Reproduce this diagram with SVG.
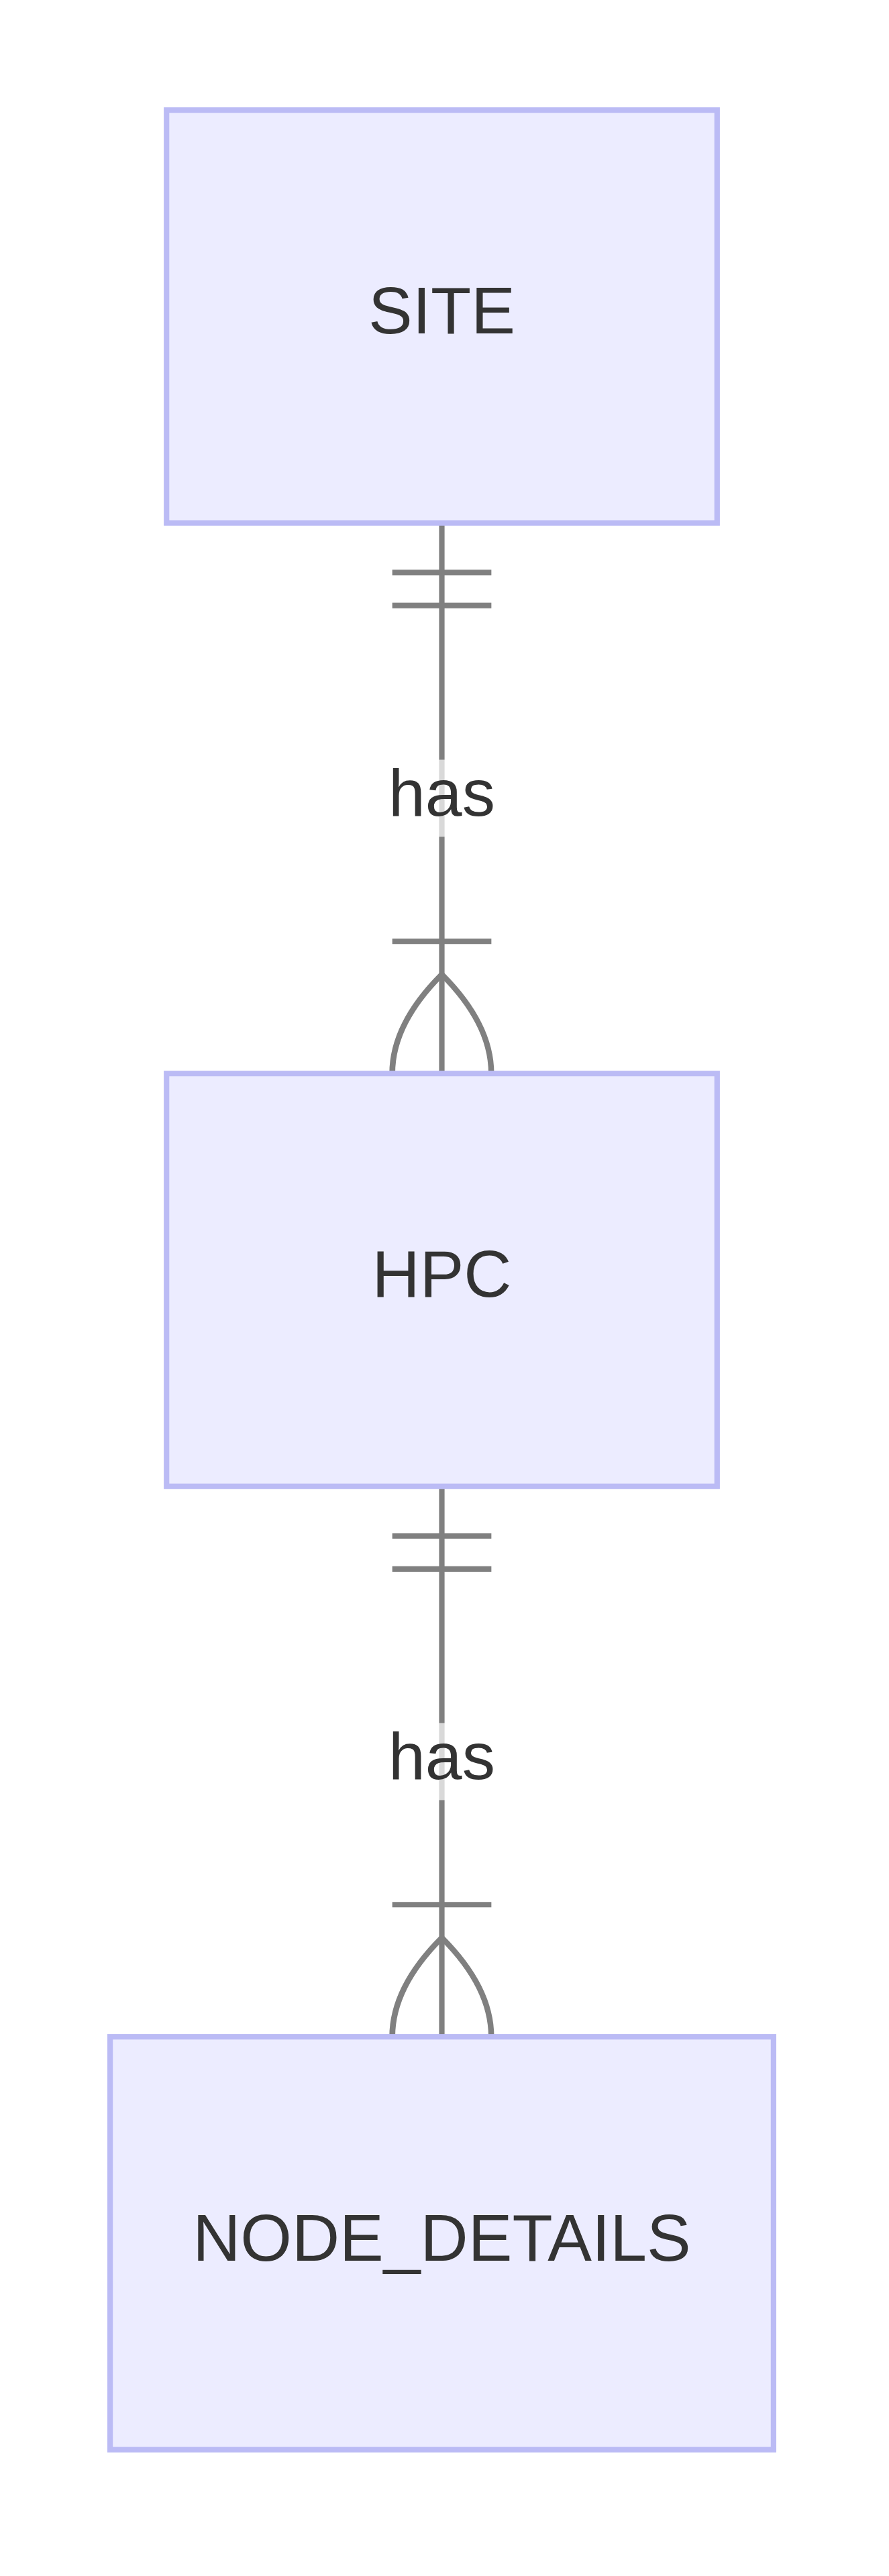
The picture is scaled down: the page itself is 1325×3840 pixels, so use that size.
<svg xmlns="http://www.w3.org/2000/svg" width="1325" height="3840" viewBox="0 0 1325 3840">
  <style>
    .entity { fill: #ECECFF; stroke: #BBBBF5; stroke-width: 8.2; }
    .etext { font-family: "Liberation Sans", Arial, sans-serif; font-size: 98.5px; fill: #333333; text-anchor: middle; }
    .rel { stroke: #808080; stroke-width: 8.206; fill: none; }
    .mk { stroke: #808080; stroke-width: 1; fill: none; }
    .lbox { fill: #ffffff; fill-opacity: 0.7; }
    .ltext { font-family: "Liberation Sans", Arial, sans-serif; font-size: 98.5px; fill: #333333; text-anchor: middle; }
  </style>
  <defs>
    <marker id="onlyOneStart" refX="0" refY="9" markerWidth="18" markerHeight="18" orient="auto" overflow="visible">
      <path class="mk" d="M9,0 L9,18 M15,0 L15,18"/>
    </marker>
    <marker id="oneOrMoreEnd" refX="27" refY="18" markerWidth="45" markerHeight="36" orient="auto" overflow="visible">
      <path class="mk" d="M3,9 L3,27 M9,18 Q27,0 45,18 Q27,36 9,18"/>
    </marker>
  </defs>
  <rect x="0" y="0" width="1325" height="3840" fill="#ffffff"/>
  <g id="connectors">
    <g id="edge-site-hpc">
      <path class="rel" d="M658.5,779.6 L658.5,1600.2" marker-start="url(#onlyOneStart)" marker-end="url(#oneOrMoreEnd)"/>
      <rect class="lbox" x="579" y="1132.5" width="159" height="114.9"/>
      <text class="ltext" x="658.5" y="1215.5">has</text>
    </g>
    <g id="edge-hpc-node">
      <path class="rel" d="M658.5,2215.7 L658.5,3036.2" marker-start="url(#onlyOneStart)" marker-end="url(#oneOrMoreEnd)"/>
      <rect class="lbox" x="579" y="2568.5" width="159" height="114.9"/>
      <text class="ltext" x="658.5" y="2651.5">has</text>
    </g>
  </g>
  <g id="node-SITE">
    <rect class="entity" x="248.2" y="164.1" width="820.6" height="615.5"/>
    <text class="etext" x="658.5" y="497.4">SITE</text>
  </g>
  <g id="node-HPC">
    <rect class="entity" x="248.2" y="1600.2" width="820.6" height="615.5"/>
    <text class="etext" x="658.5" y="1933.4">HPC</text>
  </g>
  <g id="node-NODE_DETAILS">
    <rect class="entity" x="164.1" y="3036.2" width="988.8" height="615.5"/>
    <text class="etext" x="658.5" y="3369.5">NODE_DETAILS</text>
  </g>
</svg>
